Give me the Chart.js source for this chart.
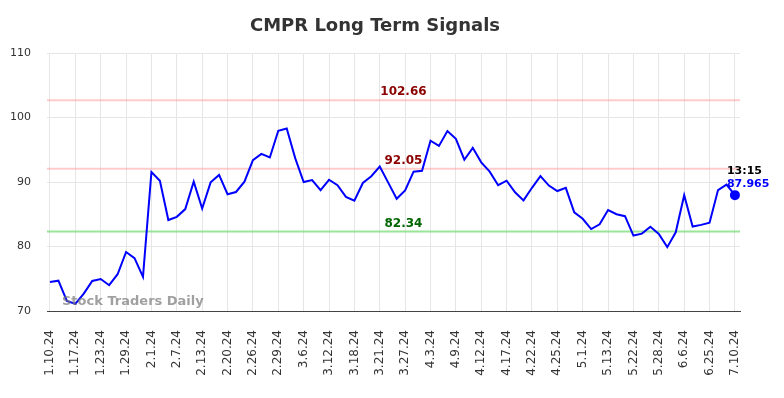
<!DOCTYPE html>
<html><head><meta charset="utf-8">
<script src="https://cdn.jsdelivr.net/npm/chart.js@4/dist/chart.umd.min.js"></script>
<style>html,body{margin:0;padding:0;background:#fff;overflow:hidden}#wrap{width:784px;height:398px}</style>
</head><body><div id="wrap"><canvas id="c" width="784" height="398"></canvas></div>
<script>
const chartTitle = "CMPR Long Term Signals";
const tickLabels = ["1.10.24","1.17.24","1.23.24","1.29.24","2.1.24","2.7.24","2.13.24","2.20.24","2.26.24","2.29.24","3.6.24","3.12.24","3.18.24","3.21.24","3.27.24","4.3.24","4.9.24","4.12.24","4.17.24","4.22.24","4.25.24","5.1.24","5.13.24","5.22.24","5.28.24","6.6.24","6.25.24","7.10.24"];
const pointsPerTick = 3;
const values = [74.5,74.7,71.55,71.1,72.7,74.65,74.96,74.0,75.7,79.15,78.2,75.3,
  91.55,90.2,84.1,84.6,85.8,90.05,85.9,89.95,91.1,88.1,88.45,90.05,93.4,94.35,93.8,97.95,
  98.3,93.7,90.0,90.3,88.75,90.35,89.5,87.7,87.1,89.85,90.9,92.4,89.9,87.4,88.7,91.6,
  91.75,96.4,95.6,97.9,96.7,93.45,95.3,93.05,91.6,89.5,90.2,88.4,87.15,89.1,90.9,89.45,
  88.6,89.1,85.3,84.3,82.7,83.45,85.65,85.0,84.7,81.7,82.0,83.05,81.95,79.9,82.2,87.95,
  83.1,83.35,83.7,88.75,89.6,87.965];
const resistanceLevels = [102.66, 92.05];
const supportLevels = [82.34];
const lastTime = "13:15";
const lastValue = 87.965;
const watermark = "Stock Traders Daily";

const lastIdx = values.length - 1;

const overlay = {
  id: 'overlay',
  beforeDatasetsDraw(chart) {
    const {ctx, chartArea: a, scales: {y}} = chart;
    ctx.save();
    ctx.lineWidth = 2;
    resistanceLevels.forEach(v => {
      const py = y.getPixelForValue(v);
      ctx.strokeStyle = 'rgba(255,160,160,0.55)';
      ctx.beginPath(); ctx.moveTo(a.left, py); ctx.lineTo(a.right, py); ctx.stroke();
    });
    supportLevels.forEach(v => {
      const py = y.getPixelForValue(v);
      ctx.strokeStyle = 'rgba(120,220,120,0.75)';
      ctx.beginPath(); ctx.moveTo(a.left, py); ctx.lineTo(a.right, py); ctx.stroke();
    });
    ctx.restore();
  },
  afterDatasetsDraw(chart) {
    const {ctx, chartArea: a, scales: {x, y}} = chart;
    ctx.save();
    const cx = x.getPixelForValue(41.8);
    ctx.font = 'bold 12px "DejaVu Sans"';
    ctx.textAlign = 'center';
    ctx.textBaseline = 'middle';
    resistanceLevels.forEach(v => {
      ctx.fillStyle = '#8b0000';
      ctx.fillText(v.toFixed(2), cx, y.getPixelForValue(v) - 8);
    });
    supportLevels.forEach(v => {
      ctx.fillStyle = '#006400';
      ctx.fillText(v.toFixed(2), cx, y.getPixelForValue(v) - 8);
    });
    // watermark
    ctx.font = 'bold 13px "DejaVu Sans"';
    ctx.textAlign = 'left';
    ctx.fillStyle = 'rgba(120,120,120,0.7)';
    ctx.fillText(watermark, a.left + 15, a.bottom - 9);
    // last value label
    const px = x.getPixelForValue(lastIdx), py = y.getPixelForValue(lastValue);
    ctx.font = 'bold 11px "DejaVu Sans"';
    ctx.fillStyle = '#000';
    ctx.fillText(lastTime, px - 8, py - 24);
    ctx.fillStyle = '#0000ff';
    ctx.fillText(lastValue.toString(), px - 8, py - 11);
    // title
    ctx.font = 'bold 18px "DejaVu Sans"';
    ctx.textAlign = 'center';
    ctx.fillStyle = '#333';
    ctx.fillText(chartTitle, 375, 26);
    ctx.restore();
  }
};

new Chart(document.getElementById('c'), {
  type: 'line',
  data: {
    datasets: [{
      data: values.map((v, i) => ({x: i, y: v})),
      borderColor: '#0000ff',
      backgroundColor: '#0000ff',
      borderWidth: 2,
      tension: 0,
      pointRadius: values.map((v, i) => i === lastIdx ? 4 : 0),
      pointHoverRadius: 0
    }]
  },
  options: {
    responsive: false,
    animation: false,
    devicePixelRatio: 1,
    layout: {padding: {left: 0, right: 44, top: 53, bottom: 0}},
    plugins: {legend: {display: false}, title: {display: false}, tooltip: {enabled: false}},
    scales: {
      x: {
        type: 'linear',
        min: -0.35,
        max: lastIdx + 0.6,
        afterFit(s) { s.height = 87; },
        afterBuildTicks(s) { s.ticks = tickLabels.map((l, i) => ({value: i * pointsPerTick})); },
        ticks: {
          autoSkip: false,
          minRotation: 90, maxRotation: 90,
          padding: 13,
          color: '#333',
          font: {family: '"DejaVu Sans"', size: 12},
          callback: (v) => tickLabels[Math.round(v / pointsPerTick)]
        },
        grid: {color: '#e6e6e6', lineWidth: 1, drawTicks: true, tickLength: 6, tickColor: 'rgba(0,0,0,0)'},
        border: {display: true, color: '#444', width: 1}
      },
      y: {
        min: 70, max: 110,
        afterFit(s) { s.width = 47; },
        ticks: {stepSize: 10, padding: 16, color: '#333', font: {family: '"DejaVu Sans"', size: 11}},
        grid: {color: '#e6e6e6', lineWidth: 1, drawTicks: false},
        border: {display: false}
      }
    }
  },
  plugins: [overlay]
});
</script></body></html>
